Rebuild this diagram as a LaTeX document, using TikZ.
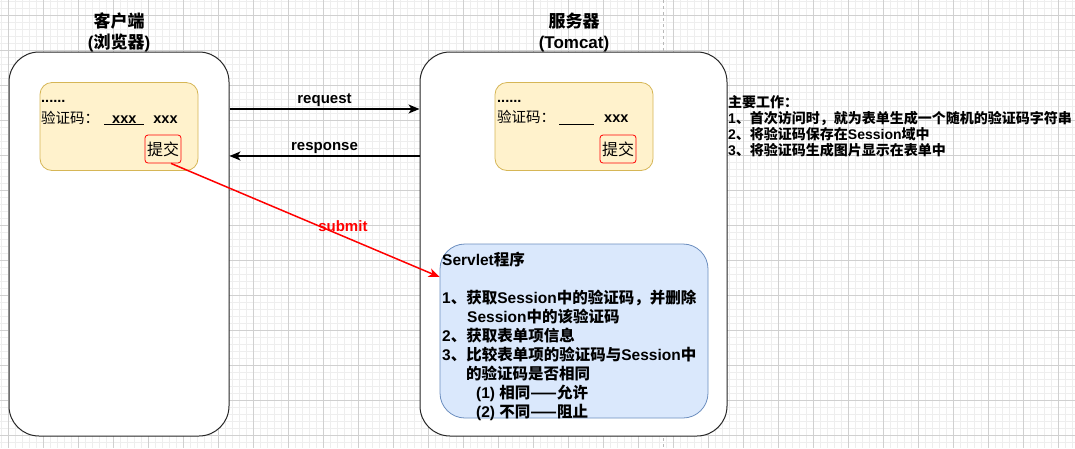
\documentclass[tikz,border=0pt]{standalone}
\usepackage{fontspec}
\setmainfont{Liberation Sans}
\newfontfamily\zhfont{Noto Sans CJK SC}
\newcommand{\zh}[1]{{\zhfont #1}}
\usetikzlibrary{arrows.meta}

\definecolor{gridminor}{HTML}{EEEEEE}
\definecolor{gridmajor}{HTML}{D0D0D0}
\definecolor{formfill}{HTML}{FFF2CC}
\definecolor{formline}{HTML}{D6B656}
\definecolor{servfill}{HTML}{DAE8FC}
\definecolor{servline}{HTML}{6C8EBF}

\tikzset{
  gridfine/.style={draw=gridminor, line width=0.5pt},
  gridbold/.style={draw=gridmajor, line width=0.7pt},
  pageline/.style={draw=black!28, dashed, line width=0.8pt},
  sidebox/.style={draw=black!85, fill=white, line width=1pt, rounded corners=30pt,
    inner sep=0pt, minimum height=384pt},
  sidetitle/.style={font=\fontsize{17pt}{21pt}\selectfont\bfseries, align=center},
  formbox/.style={draw=formline, fill=formfill, line width=0.8pt, rounded corners=12pt,
    inner sep=0pt, minimum width=158pt, minimum height=88pt},
  formtext/.style={font=\fontsize{14.5pt}{17pt}\selectfont\bfseries, inner sep=0pt, anchor=west},
  submitbtn/.style={draw=red, line width=0.8pt, rounded corners=3pt, inner sep=0pt,
    minimum width=36pt, minimum height=28pt, font=\zhfont\fontsize{16pt}{18pt}\selectfont},
  msgarrow/.style={-{Stealth[length=11pt, width=9pt, inset=3pt]}, line width=1.5pt},
  msglabel/.style={font=\fontsize{15pt}{18pt}\selectfont\bfseries},
  submitarrow/.style={msgarrow, draw=red},
  servletbox/.style={draw=servline, fill=servfill, line width=0.8pt, rounded corners=25pt,
    inner sep=0pt, minimum width=268pt, minimum height=174pt},
  servlettext/.style={font=\fontsize{15.5pt}{19pt}\selectfont\bfseries, align=left, inner sep=0pt},
  notetext/.style={font=\fontsize{14pt}{16pt}\selectfont\bfseries, align=left, inner sep=0pt}
}

\begin{document}
\begin{tikzpicture}[x=1pt, y=-1pt]

	% canvas and grid
	\useasboundingbox (0,0) rectangle (1075,448);
	\fill[white] (0,0) rectangle (1075,448);
	\foreach \gx in {1,8,...,1075} \draw[gridfine] (\gx,0) -- (\gx,448);
	\foreach \gy in {1,8,...,448} \draw[gridfine] (0,\gy) -- (1075,\gy);
	\foreach \gx in {8,43,...,1075} \draw[gridbold] (\gx,0) -- (\gx,448);
	\foreach \gy in {15,50,...,448} \draw[gridbold] (0,\gy) -- (1075,\gy);
	\draw[pageline] (663,0) -- (663,448);

	% client and server
	\node[sidebox, minimum width=220pt] (client) at (119,244) {};
	\node[sidebox, minimum width=307pt] (server) at (573.5,244) {};
	\node[sidetitle] (clientT) at (119,32) {\zh{客户端}\\(\zh{浏览器})};
	\node[sidetitle] (serverT) at (574,32) {\zh{服务器}\\(Tomcat)};

	% forms
	\node[formbox] (formA) at (119,126.5) {};
	\node[formtext] (dotsA) at (41,101) {......};
	\node[formtext] (codeA) at (41,118)
		{{\zhfont\mdseries 验证码：}\hspace{5pt}\underline{\hspace{8pt}xxx\hspace{8pt}}\hspace{9pt}xxx};
	\node[submitbtn] (btnA) at (163,149) {提交};

	\node[formbox] (formB) at (574,126.5) {};
	\node[formtext] (dotsB) at (497,101) {......};
	\node[formtext] (codeB) at (497,118)
		{{\zhfont\mdseries 验证码：}\hspace{4pt}\rule[-2.5pt]{35pt}{1.3pt}\hspace{10pt}xxx};
	\node[submitbtn] (btnB) at (618,149) {提交};

	% servlet
	\node[servletbox] (servlet) at (574,331) {};
	\node[servlettext, anchor=north west] (servletT) at (442,252)
		{Servlet\zh{程序}\\[19pt]
		 1\zh{、获取}Session\zh{中的验证码，并删除}\\
		 \hspace*{25pt}Session\zh{中的该验证码}\\
		 2\zh{、获取表单项信息}\\
		 3\zh{、比较表单项的验证码与}Session\zh{中}\\
		 \hspace*{24pt}\zh{的验证码是否相同}\\
		 \hspace*{34pt}(1) \zh{相同——允许}\\
		 \hspace*{34pt}(2) \zh{不同——阻止}};

	% messages
	\coordinate (reqline) at (0,109);
	\coordinate (respline) at (0,156);
	\draw[msgarrow] (client.east |- reqline) -- (server.west |- reqline)
		node[msglabel, midway, above=-2pt] {request};
	\draw[msgarrow] (server.west |- respline) -- (client.east |- respline)
		node[msglabel, midway, above=-2pt] {response};
	\draw[submitarrow] ([xshift=8pt]btnA.south) -- ([yshift=54pt]servlet.west)
		node[msglabel, text=red, pos=0.64, above=0pt] {submit};

	% notes
	\node[notetext, anchor=north west] (note) at (728,95)
		{\zh{主要工作：}\\
		 1\zh{、首次访问时，就为表单生成一个随机的验证码字符串}\\
		 2\zh{、将验证码保存在}Session\zh{域中}\\
		 3\zh{、将验证码生成图片显示在表单中}};

\end{tikzpicture}
\end{document}
